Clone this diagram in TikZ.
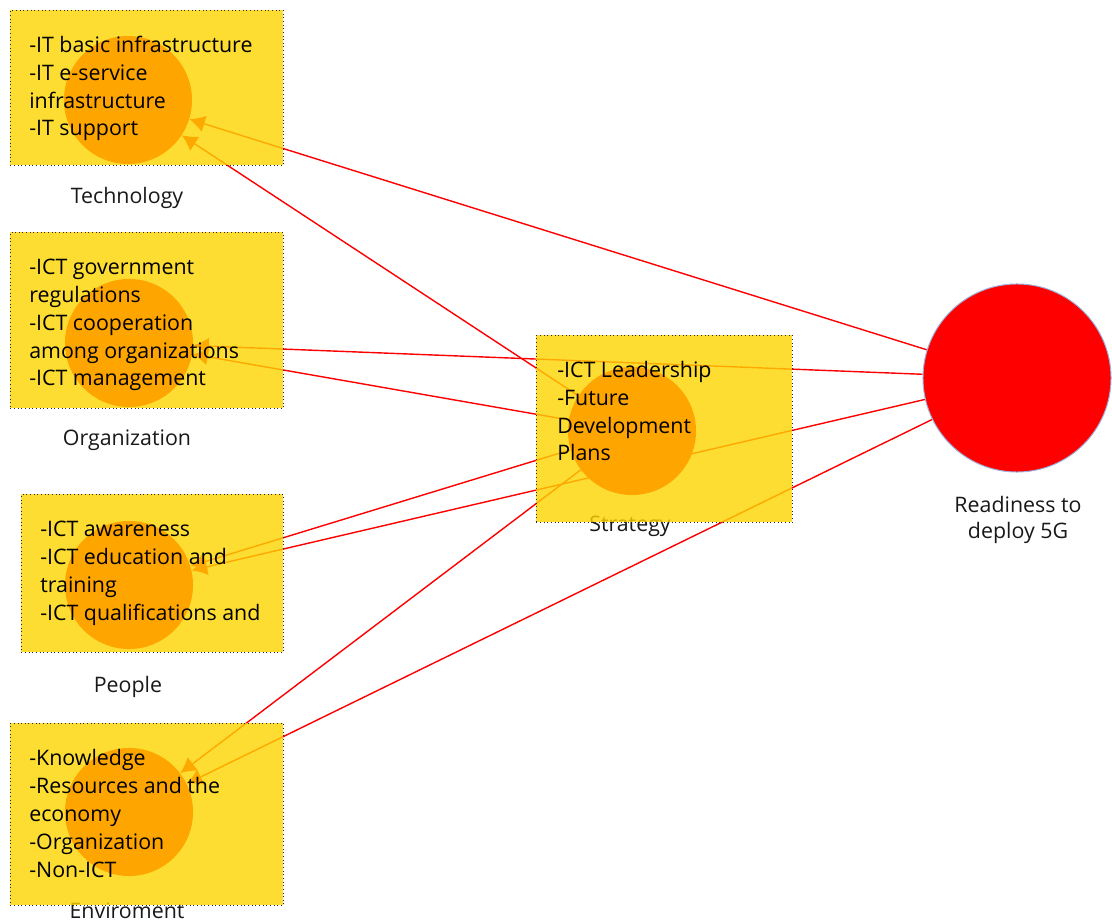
\documentclass[tikz,border=0pt]{standalone}
\usepackage{fontspec}
\setmainfont{Open Sans}
\usetikzlibrary{positioning,arrows.meta,backgrounds}
\definecolor{boxfill}{HTML}{FED400}
\definecolor{blobfill}{HTML}{FFA500}
\definecolor{linkred}{HTML}{FF0000}
\definecolor{rimblue}{HTML}{9DB2DC}

\begin{document}
\begin{tikzpicture}[x=0.025cm, y=-0.025cm,
  factorbox/.style={draw=black!85, dotted, line width=0.6pt, fill=boxfill, fill opacity=0.8, anchor=north west, inner sep=0pt},
  blob/.style={circle, fill=blobfill, minimum size=3.2cm, inner sep=0pt},
  itemtext/.style={align=left, anchor=base west, inner sep=0pt, font=\fontsize{15.2}{19.9}\selectfont},
  caption/.style={align=center, anchor=base, inner sep=0pt, font=\fontsize{15.2}{18.5}\selectfont, text=black!90},
  link/.style={draw=linkred, line width=1pt, -{Latex[length=11pt,width=12pt]}}]

\useasboundingbox (0,0) rectangle (1112,924);

% captions first, the boxes cover them a bit
\node[caption] (techcap) at (127,204) {Technology};
\node[caption] (orgcap) at (127,446) {Organization};
\node[caption] (peoplecap) at (128,692) {People};
\node[caption] (envcap) at (127,918) {Enviroment};
\node[caption] (stratcap) at (630,532) {Strategy};
\node[caption] (readycap) at (1018,539) {Readiness to\\deploy 5G};

% yellow boxes
\node[factorbox, minimum width=6.825cm, minimum height=3.875cm] (techbox) at (10,10) {};
\node[factorbox, minimum width=6.825cm, minimum height=4.4cm] (orgbox) at (10,232) {};
\node[factorbox, minimum width=6.55cm, minimum height=3.95cm] (peoplebox) at (21,494) {};
\node[factorbox, minimum width=6.825cm, minimum height=4.55cm] (envbox) at (10,723) {};
\node[factorbox, minimum width=6.4cm, minimum height=4.675cm] (stratbox) at (536,335) {};

% circles
\node[blob] (tech) at (128,100) {};
\node[blob] (org) at (129,343) {};
\node[blob] (people) at (129,585) {};
\node[blob] (env) at (129,812) {};
\node[blob] (strat) at (632,431) {};
\node[circle, fill=linkred, draw=rimblue, line width=0.7pt, minimum size=4.7cm, inner sep=0pt] (ready) at (1017,378) {};

% item lists (anchored on the last line)
\node[itemtext] (techtext) at (29,136) {-IT basic infrastructure\\-IT e-service\\infrastructure\\-IT support};
\node[itemtext] (orgtext) at (29,386) {-ICT government\\regulations\\-ICT cooperation\\among organizations\\-ICT management};
\node[itemtext] (peopletext) at (40,620) {-ICT awareness\\-ICT education and\\training\\-ICT qualifications and};
\node[itemtext] (envtext) at (29,877) {-Knowledge\\-Resources and the\\economy\\-Organization\\-Non-ICT};
\node[itemtext] (strattext) at (557,461) {-ICT Leadership\\-Future\\Development\\Plans};

% connectors under the boxes
\begin{scope}[on background layer]
\foreach \f in {tech,org,people,env} {
  \draw[link] (ready) -- (\f);
  \draw[link] (strat) -- (\f);
}
\end{scope}
\end{tikzpicture}
\end{document}
